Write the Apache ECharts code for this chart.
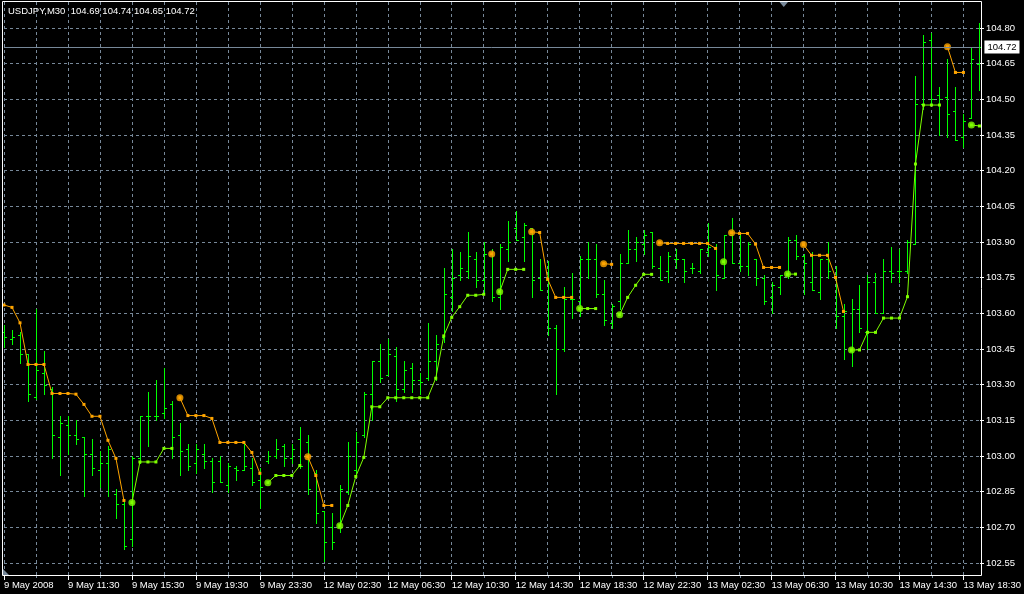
<!DOCTYPE html>
<html>
<head>
<meta charset="utf-8">
<script src="https://cdn.jsdelivr.net/npm/echarts@6/dist/echarts.min.js"></script>
<style>
html,body{margin:0;padding:0;background:#000;}
#c{width:1024px;height:594px;}
</style>
</head>
<body>
<div id="c"></div>
<script>
// ---------------- DATA ----------------
const symbolName = 'USDJPY,M30';
const headerQuote = [104.69, 104.74, 104.65, 104.72];
const lastPrice = 104.72;

const tickLabels = ['9 May 2008','9 May 11:30','9 May 15:30','9 May 19:30','9 May 23:30',
  '12 May 02:30','12 May 06:30','12 May 10:30','12 May 14:30','12 May 18:30','12 May 22:30',
  '13 May 02:30','13 May 06:30','13 May 10:30','13 May 14:30','13 May 18:30'];
const barsPerLabel = 8;
const priceTicks = { min: 102.55, max: 104.80, step: 0.15 };

const opens = [103.52,103.49,103.51,103.43,103.25,103.35,103.28,103.08,103.13,103.09,
103.08,103.01,102.94,102.97,102.84,102.80,102.65,102.99,103.17,103.17,
103.18,103.22,103.09,103.03,102.97,103.01,102.98,102.98,102.88,102.95,
102.94,102.95,102.90,102.98,103.00,103.04,102.99,103.07,103.06,102.93,
102.77,102.70,102.70,102.85,102.94,103.09,103.26,103.40,103.34,103.42,
103.28,103.37,103.32,103.33,103.40,103.50,103.67,103.76,103.78,103.83,
103.74,103.85,103.67,103.87,103.96,103.92,103.96,103.75,103.74,103.54,
103.45,103.66,103.65,103.83,103.83,103.68,103.56,103.65,103.81,103.87,
103.89,103.94,103.79,103.78,103.83,103.83,103.79,103.78,103.86,103.88,
103.75,103.93,103.81,103.80,103.83,103.75,103.67,103.71,103.76,103.91,
103.84,103.73,103.69,103.83,103.75,103.59,103.44,103.62,103.52,103.73,
103.60,103.78,103.78,103.78,103.89,104.48,104.75,104.52,104.51,104.45,
104.34,104.42,104.65];
const highs = [103.55,103.53,103.52,103.43,103.62,103.44,103.29,103.17,103.17,103.15,
103.08,103.07,103.02,103.04,102.86,102.81,103.00,103.17,103.27,103.32,
103.37,103.23,103.14,103.05,103.05,103.05,102.99,103.00,102.97,102.96,
103.06,102.99,102.95,103.02,103.07,103.05,103.05,103.12,103.09,102.94,
102.77,102.76,102.88,103.06,103.10,103.27,103.40,103.47,103.49,103.46,
103.40,103.39,103.35,103.56,103.51,103.79,103.87,103.86,103.94,103.86,
103.90,103.87,103.89,103.99,104.03,103.98,103.96,103.83,103.82,103.55,
103.71,103.77,103.84,103.90,103.89,103.74,103.64,103.85,103.95,103.92,
103.95,103.94,103.84,103.86,103.87,103.83,103.81,103.87,103.98,103.89,
103.93,104.00,103.94,103.90,103.83,103.76,103.73,103.76,103.92,103.93,
103.85,103.86,103.83,103.90,103.80,103.64,103.66,103.72,103.76,103.77,
103.83,103.88,103.87,103.91,104.60,104.77,104.78,104.55,104.67,104.55,
104.44,104.72,104.82];
const lows = [103.46,103.47,103.39,103.23,103.24,103.26,102.99,102.92,103.01,103.05,
102.83,102.92,102.87,102.83,102.74,102.61,102.62,102.97,103.04,103.15,
103.16,102.99,102.92,102.94,102.93,102.95,102.85,102.89,102.85,102.90,
102.94,102.88,102.78,102.97,102.99,102.96,102.97,102.95,102.84,102.72,
102.56,102.61,102.68,102.84,102.93,103.08,103.15,103.31,103.34,103.23,
103.27,103.27,103.26,103.32,103.32,103.48,103.61,103.74,103.75,103.71,
103.68,103.65,103.62,103.82,103.91,103.82,103.67,103.70,103.51,103.26,
103.44,103.58,103.59,103.75,103.67,103.55,103.54,103.62,103.81,103.82,
103.85,103.79,103.74,103.73,103.79,103.73,103.77,103.77,103.84,103.70,
103.75,103.81,103.78,103.76,103.72,103.64,103.60,103.68,103.75,103.83,
103.68,103.70,103.66,103.75,103.54,103.41,103.38,103.52,103.45,103.60,
103.60,103.73,103.73,103.77,103.89,104.46,104.48,104.35,104.34,104.33,
104.30,104.42,104.54];
const closes = [103.50,103.50,103.43,103.26,103.36,103.30,103.09,103.14,103.09,103.07,
103.01,102.95,102.97,103.03,102.80,102.62,102.99,103.17,103.17,103.17,
103.20,103.08,103.02,102.96,103.03,102.98,102.89,102.89,102.96,102.94,
102.96,102.89,102.87,103.00,103.03,102.99,103.03,102.96,102.86,102.76,
102.64,102.64,102.86,103.00,103.06,103.26,103.40,103.33,103.43,103.28,
103.36,103.32,103.31,103.40,103.47,103.68,103.75,103.79,103.84,103.74,
103.85,103.67,103.88,103.90,103.91,103.97,103.74,103.70,103.54,103.45,
103.66,103.66,103.83,103.83,103.68,103.57,103.63,103.81,103.87,103.90,
103.93,103.80,103.74,103.84,103.83,103.78,103.79,103.87,103.88,103.76,
103.93,103.81,103.80,103.89,103.75,103.65,103.72,103.76,103.91,103.84,
103.81,103.70,103.83,103.78,103.59,103.61,103.62,103.54,103.73,103.60,
103.78,103.77,103.78,103.90,104.48,104.74,104.50,104.50,104.44,104.33,
104.41,104.67,104.72];

// trend indicator: falling segments (orange) and rising segments (lime)
const downLine = [
103.635,103.625,103.560,103.385,103.385,103.385,103.263,103.263,103.263,103.260,
103.217,103.167,103.167,103.066,102.990,102.813,null,null,null,null,
null,null,103.245,103.170,103.170,103.170,103.158,103.057,103.057,103.057,
103.057,103.015,102.927,null,null,null,null,null,102.997,102.918,
102.792,102.792,null,null,null,null,null,null,null,null,
null,null,null,null,null,null,null,null,null,null,
null,103.850,null,null,null,null,103.943,103.940,103.744,103.667,
103.667,103.667,null,null,null,103.809,103.806,null,null,null,
null,null,103.897,103.894,103.894,103.894,103.894,103.894,103.894,103.873,
null,103.939,103.936,103.936,103.891,103.793,103.793,103.793,null,null,
103.889,103.844,103.844,103.844,103.751,103.608,null,null,null,null,
null,null,null,null,null,null,null,null,104.721,104.613,
104.613,null,null];
const upLine = [
null,null,null,null,null,null,null,null,null,null,
null,null,null,null,null,null,102.804,102.975,102.975,102.975,
103.032,103.032,null,null,null,null,null,null,null,null,
null,null,null,102.888,102.918,102.918,102.918,102.960,null,null,
null,null,102.707,102.792,102.914,102.994,103.207,103.207,103.245,103.245,
103.245,103.245,103.245,103.245,103.327,103.505,103.583,103.628,103.676,103.676,
103.680,null,103.691,103.785,103.785,103.785,null,null,null,null,
null,null,103.620,103.620,103.620,null,null,103.594,103.667,103.718,
103.764,103.764,null,null,null,null,null,null,null,null,
103.817,null,null,null,null,null,null,null,103.765,103.765,
null,null,null,null,null,null,103.446,103.446,103.520,103.520,
103.580,103.580,103.580,103.670,104.228,104.476,104.476,104.476,null,null,
null,104.392,104.388];

// ---------------- STYLE ----------------
const BG = '#000000';
const BAR = '#00ff00';
const DOWN = '#ffa500';
const UP = '#7fff00';
const GRID = '#778899';
const FONT = "'Liberation Sans',Arial,sans-serif";
const FS = 9.5;

// ---------------- BUILD ----------------
const categories = opens.map((_, i) => String(i));
const ohlc = opens.map((o, i) => [i, o, highs[i], lows[i], closes[i]]);
function segmentStarts(arr) {
  const out = [];
  for (let i = 1; i < arr.length; i++) {
    if (arr[i] != null && arr[i - 1] == null) out.push([i, arr[i]]);
  }
  return out;
}
const pxTop = 2, pxBottom = 19;       // plot frame
const scaleTop = 28, scaleBottom = 31; // px of priceTicks.max / min
const pxPerUnit = (594 - scaleTop - scaleBottom) / (priceTicks.max - priceTicks.min);
const dataMax = priceTicks.max + (scaleTop - pxTop) / pxPerUnit;
const dataMin = priceTicks.min - (scaleBottom - pxBottom) / pxPerUnit;

const chart = echarts.init(document.getElementById('c'), null, { renderer: 'canvas' });
chart.setOption({
  animation: false,
  backgroundColor: BG,
  title: {
    text: symbolName + '  ' + headerQuote.map(v => v.toFixed(2)).join(' '),
    left: 8, top: 6, padding: 0,
    textStyle: { color: '#fff', fontSize: FS, fontWeight: 'normal', fontFamily: FONT }
  },
  grid: [
    { left: 4, right: 44, top: pxTop, bottom: pxBottom },
    { left: 4, right: 44, top: scaleTop, bottom: scaleBottom },
    { left: 4, right: 44, top: pxTop, bottom: pxBottom }
  ],
  xAxis: [
    {
      gridIndex: 0, type: 'category', data: categories, boundaryGap: false,
      position: 'bottom',
      axisLine: { show: false },
      axisTick: { show: true, interval: barsPerLabel - 1, length: 5, lineStyle: { color: '#fff' } },
      axisLabel: {
        show: true, interval: barsPerLabel - 1, align: 'left', margin: 5,
        color: '#fff', fontSize: FS, fontFamily: FONT, lineHeight: 11,
        formatter: (v, idx) => { const k = idx / barsPerLabel; return tickLabels[k] || ''; }
      },
      splitLine: { show: true, interval: barsPerLabel / 2 - 1, lineStyle: { color: GRID, type: [3, 3], width: 1 } }
    },
    { gridIndex: 1, type: 'category', data: categories, boundaryGap: false, show: false },
    {
      gridIndex: 2, type: 'category', data: categories, boundaryGap: false, position: 'bottom',
      axisLine: { show: false },
      axisTick: { show: true, length: 3, lineStyle: { color: GRID },
        interval: (idx) => idx % (barsPerLabel / 2) === 0 && idx % barsPerLabel !== 0 },
      axisLabel: { show: false },
      splitLine: { show: false }
    }
  ],
  yAxis: [
    { gridIndex: 0, type: 'value', min: dataMin, max: dataMax, show: false },
    {
      gridIndex: 1, type: 'value', position: 'right',
      min: priceTicks.min, max: priceTicks.max, interval: priceTicks.step,
      axisLine: { show: false },
      axisTick: { show: true, length: 4, lineStyle: { color: '#fff' } },
      axisLabel: { color: '#fff', margin: 6, fontSize: FS, fontFamily: FONT, formatter: v => v.toFixed(2) },
      splitLine: { show: true, lineStyle: { color: GRID, type: [3, 3], width: 1 } }
    },
    { gridIndex: 2, type: 'value', min: dataMin, max: dataMax, show: false }
  ],
  series: [
    {
      type: 'custom', name: 'bars', xAxisIndex: 0, yAxisIndex: 0,
      data: ohlc, encode: { x: 0, y: [1, 2, 3, 4] },
      renderItem: (params, api) => {
        const i = api.value(0);
        const x = Math.round(api.coord([i, api.value(2)])[0]);
        const yH = Math.round(api.coord([i, api.value(2)])[1]);
        const yL = Math.round(api.coord([i, api.value(3)])[1]);
        const yO = Math.round(api.coord([i, api.value(1)])[1]);
        const yC = Math.round(api.coord([i, api.value(4)])[1]);
        const st = { fill: BAR, opacity: 1 };
        return {
          type: 'group',
          children: [
            { type: 'rect', shape: { x: x, y: yH, width: 1, height: Math.max(1, yL - yH + 1) }, style: st },
            { type: 'rect', shape: { x: x - 2, y: yO, width: 2, height: 1 }, style: st },
            { type: 'rect', shape: { x: x + 1, y: yC, width: 2, height: 1 }, style: st }
          ]
        };
      },
      z: 2
    },
    {
      type: 'line', name: 'down', xAxisIndex: 0, yAxisIndex: 0, data: downLine,
      connectNulls: false, showSymbol: true, showAllSymbol: true,
      symbol: 'rect', symbolSize: 3,
      itemStyle: { color: DOWN }, lineStyle: { color: DOWN, width: 1 },
      z: 3,
      markLine: {
        silent: true, symbol: ['none', 'none'],
        lineStyle: { color: GRID, type: 'solid', width: 1 },
        label: {
          show: true, position: 'end', distance: 5,
          formatter: lastPrice.toFixed(2), color: '#000', backgroundColor: '#fff',
          padding: [2, 3, 1, 3], fontSize: FS, fontFamily: FONT
        },
        data: [{ yAxis: lastPrice }]
      }
    },
    {
      type: 'line', name: 'up', xAxisIndex: 0, yAxisIndex: 0, data: upLine,
      connectNulls: false, showSymbol: true, showAllSymbol: true,
      symbol: 'rect', symbolSize: 3,
      itemStyle: { color: UP }, lineStyle: { color: UP, width: 1 },
      z: 3
    },
    {
      type: 'scatter', xAxisIndex: 0, yAxisIndex: 0, data: segmentStarts(downLine),
      symbol: 'circle', symbolSize: 7, itemStyle: { color: DOWN }, z: 4
    },
    {
      type: 'scatter', xAxisIndex: 0, yAxisIndex: 0, data: segmentStarts(upLine),
      symbol: 'circle', symbolSize: 7, itemStyle: { color: UP }, z: 4
    }
  ],
  graphic: [
    { type: 'rect', silent: true, z: 50, shape: { x: 2.5, y: 1.5, width: 979, height: 574 },
      style: { fill: null, stroke: '#fff', lineWidth: 1 } },
    { type: 'polygon', silent: true, z: 51, shape: { points: [[779.5, 2], [788, 2], [783.75, 7]] },
      style: { fill: GRID } },
    { type: 'polygon', silent: true, z: 51, shape: { points: [[3, 569], [3, 575], [9, 575]] },
      style: { fill: GRID } }
  ]
});
</script>
</body>
</html>
